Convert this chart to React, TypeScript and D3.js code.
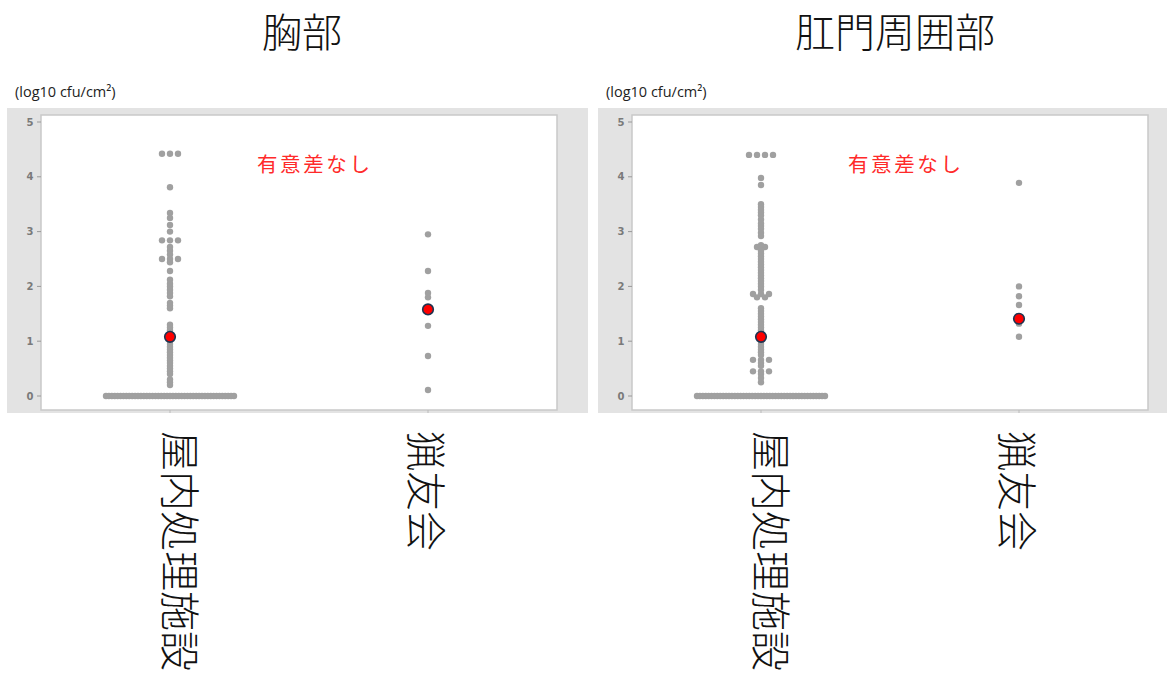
import React from "react";
import * as d3 from "d3";

// chart values
const categories = ["屋内処理施設", "猟友会"];
const panelTitles = ["胸部", "肛門周囲部"];
const yTicks = [0, 1, 2, 3, 4, 5];
const unitLabel = "(log10 cfu/cm²)";
const annotation = "有意差なし";

const chestIndoor = [
  4.42, 4.42, 4.42, 3.81, 3.34, 3.25, 3.12, 3.0, 2.84, 2.84, 2.84, 2.72, 2.65,
  2.58, 2.5, 2.5, 2.5, 2.44, 2.28, 2.12, 2.05, 2.0, 1.94, 1.88, 1.82, 1.7, 1.65,
  1.6, 1.3, 1.25, 1.2, 1.15, 1.1, 1.05, 1.0, 0.95, 0.9, 0.85, 0.8, 0.75, 0.7,
  0.65, 0.6, 0.55, 0.5, 0.45, 0.4, 0.3, 0.25, 0.2,
  0, 0, 0, 0, 0, 0, 0, 0, 0, 0, 0, 0, 0, 0, 0, 0, 0, 0, 0, 0, 0, 0, 0, 0, 0,
  0, 0, 0, 0, 0, 0, 0, 0, 0, 0, 0, 0, 0, 0, 0, 0, 0, 0, 0, 0,
];
const chestHunters = [2.95, 2.28, 1.88, 1.8, 1.6, 1.28, 0.73, 0.11];

const analIndoor = [
  4.4, 4.4, 4.4, 4.4, 3.98, 3.85, 3.5, 3.45, 3.4, 3.35, 3.3, 3.22, 3.15, 3.1,
  3.05, 2.98, 2.92, 2.75, 2.72, 2.72, 2.68, 2.65, 2.6, 2.55, 2.5, 2.45,
  2.4, 2.35, 2.3, 2.25, 2.2, 2.15, 2.1, 2.05, 2.0, 1.94, 1.86, 1.86, 1.86, 1.8,
  1.8, 1.6, 1.55, 1.5, 1.45, 1.4, 1.35, 1.3, 1.25, 1.2, 1.15, 1.1, 1.05, 1.0,
  0.95, 0.9, 0.85, 0.8, 0.75, 0.66, 0.66, 0.66, 0.6, 0.55, 0.45, 0.45, 0.45,
  0.4, 0.33, 0.25,
  0, 0, 0, 0, 0, 0, 0, 0, 0, 0, 0, 0, 0, 0, 0, 0, 0, 0, 0, 0, 0, 0, 0, 0, 0,
  0, 0, 0, 0, 0, 0, 0, 0, 0, 0, 0, 0, 0, 0, 0, 0, 0, 0, 0, 0,
];
const analHunters = [3.89, 2.0, 1.82, 1.66, 1.32, 1.08];

const chestMeans = [1.08, 1.58];
const analMeans = [1.08, 1.41];

const panels = [
  { title: panelTitles[0], series: [chestIndoor, chestHunters], means: chestMeans },
  { title: panelTitles[1], series: [analIndoor, analHunters], means: analMeans },
];

const jp = "'Noto Sans CJK JP', 'Noto Sans', sans-serif";

// spread equal values sideways like a dot plot
function layoutDots(values: number[]) {
  const groups = d3.group(values, (v) => Math.round(v * 100));
  const out: { v: number; dx: number }[] = [];
  groups.forEach((arr) => {
    const n = arr.length;
    const step = n > 1 ? Math.min(8, 128 / (n - 1)) : 0;
    arr.forEach((v, i) => out.push({ v, dx: (i - (n - 1) / 2) * step }));
  });
  return out;
}

function Panel({ panel, left, titleX }: { panel: any; left: number; titleX: number }) {
  const plotL = left + 33;
  const plotR = left + 549;
  const plotT = 115;
  const plotB = 410;
  const x = d3.scalePoint<string>().domain(categories).range([plotL, plotR]).padding(0.5);
  const y = d3.scaleLinear().domain([0, 5]).range([396, 122]);
  const labelDx = [12, 0];

  return (
    <g>
      <text x={titleX} y={47} textAnchor="middle"
        fontFamily={jp} fontSize={40} fontWeight={300} fill="#111">{panel.title}</text>
      <text x={left + 7} y={97} fontFamily="'Open Sans', sans-serif" fontSize={14.5} fill="#222">{unitLabel}</text>
      <rect x={left - 1} y={108} width={581} height={305} fill="#e3e3e3" />
      <rect x={plotL} y={plotT} width={plotR - plotL} height={plotB - plotT} fill="#fff" stroke="#c9c9c9" strokeWidth={1.5} />
      {yTicks.map((t) => (
        <g key={t}>
          <line x1={plotL - 4} x2={plotL} y1={y(t)} y2={y(t)} stroke="#999" />
          <text x={plotL - 11} y={y(t)} dy="0.35em" textAnchor="middle" fontFamily="'DejaVu Sans', sans-serif"
            fontSize={10} fontWeight="bold" fill="#7a7a7a">{t}</text>
        </g>
      ))}
      {categories.map((c) => (
        <line key={c} x1={x(c)} x2={x(c)} y1={plotB} y2={plotB + 3} stroke="#bbb" />
      ))}
      <text x={plotL + 216} y={172} fontFamily={jp} fontSize={20.5} letterSpacing={2.6} fill="#ff2a2a">{annotation}</text>
      <g filter="url(#soft)">
        {panel.series.map((vals: number[], ci: number) =>
          layoutDots(vals).map((d, i) => (
            <circle key={ci + "-" + i} cx={(x(categories[ci]) as number) + d.dx} cy={y(d.v)} r={3.2} fill="#a0a0a0" />
          ))
        )}
      </g>
      {panel.means.map((m: number, ci: number) => (
        <circle key={"m" + ci} cx={x(categories[ci])} cy={y(m)} r={5.3} fill="#ff0000" stroke="#1f3350" strokeWidth={1.6} />
      ))}
      {categories.map((c, ci) => (
        <text key={"l" + c} transform={`translate(${(x(c) as number) + labelDx[ci]},431) rotate(90)`}
          dominantBaseline="central" fontFamily={jp} fontSize={40} fontWeight={300} fill="#111">{c}</text>
      ))}
    </g>
  );
}

export default function App() {
  return (
    <svg width={1167} height={675} style={{ position: "absolute", left: 0, top: 0, background: "#fff" }}>
      <defs>
        <filter id="soft" x="-10%" y="-10%" width="120%" height="120%">
          <feGaussianBlur stdDeviation={0.75} />
        </filter>
      </defs>
      <Panel panel={panels[0]} left={8} titleX={302} />
      <Panel panel={panels[1]} left={599} titleX={895} />
    </svg>
  );
}
